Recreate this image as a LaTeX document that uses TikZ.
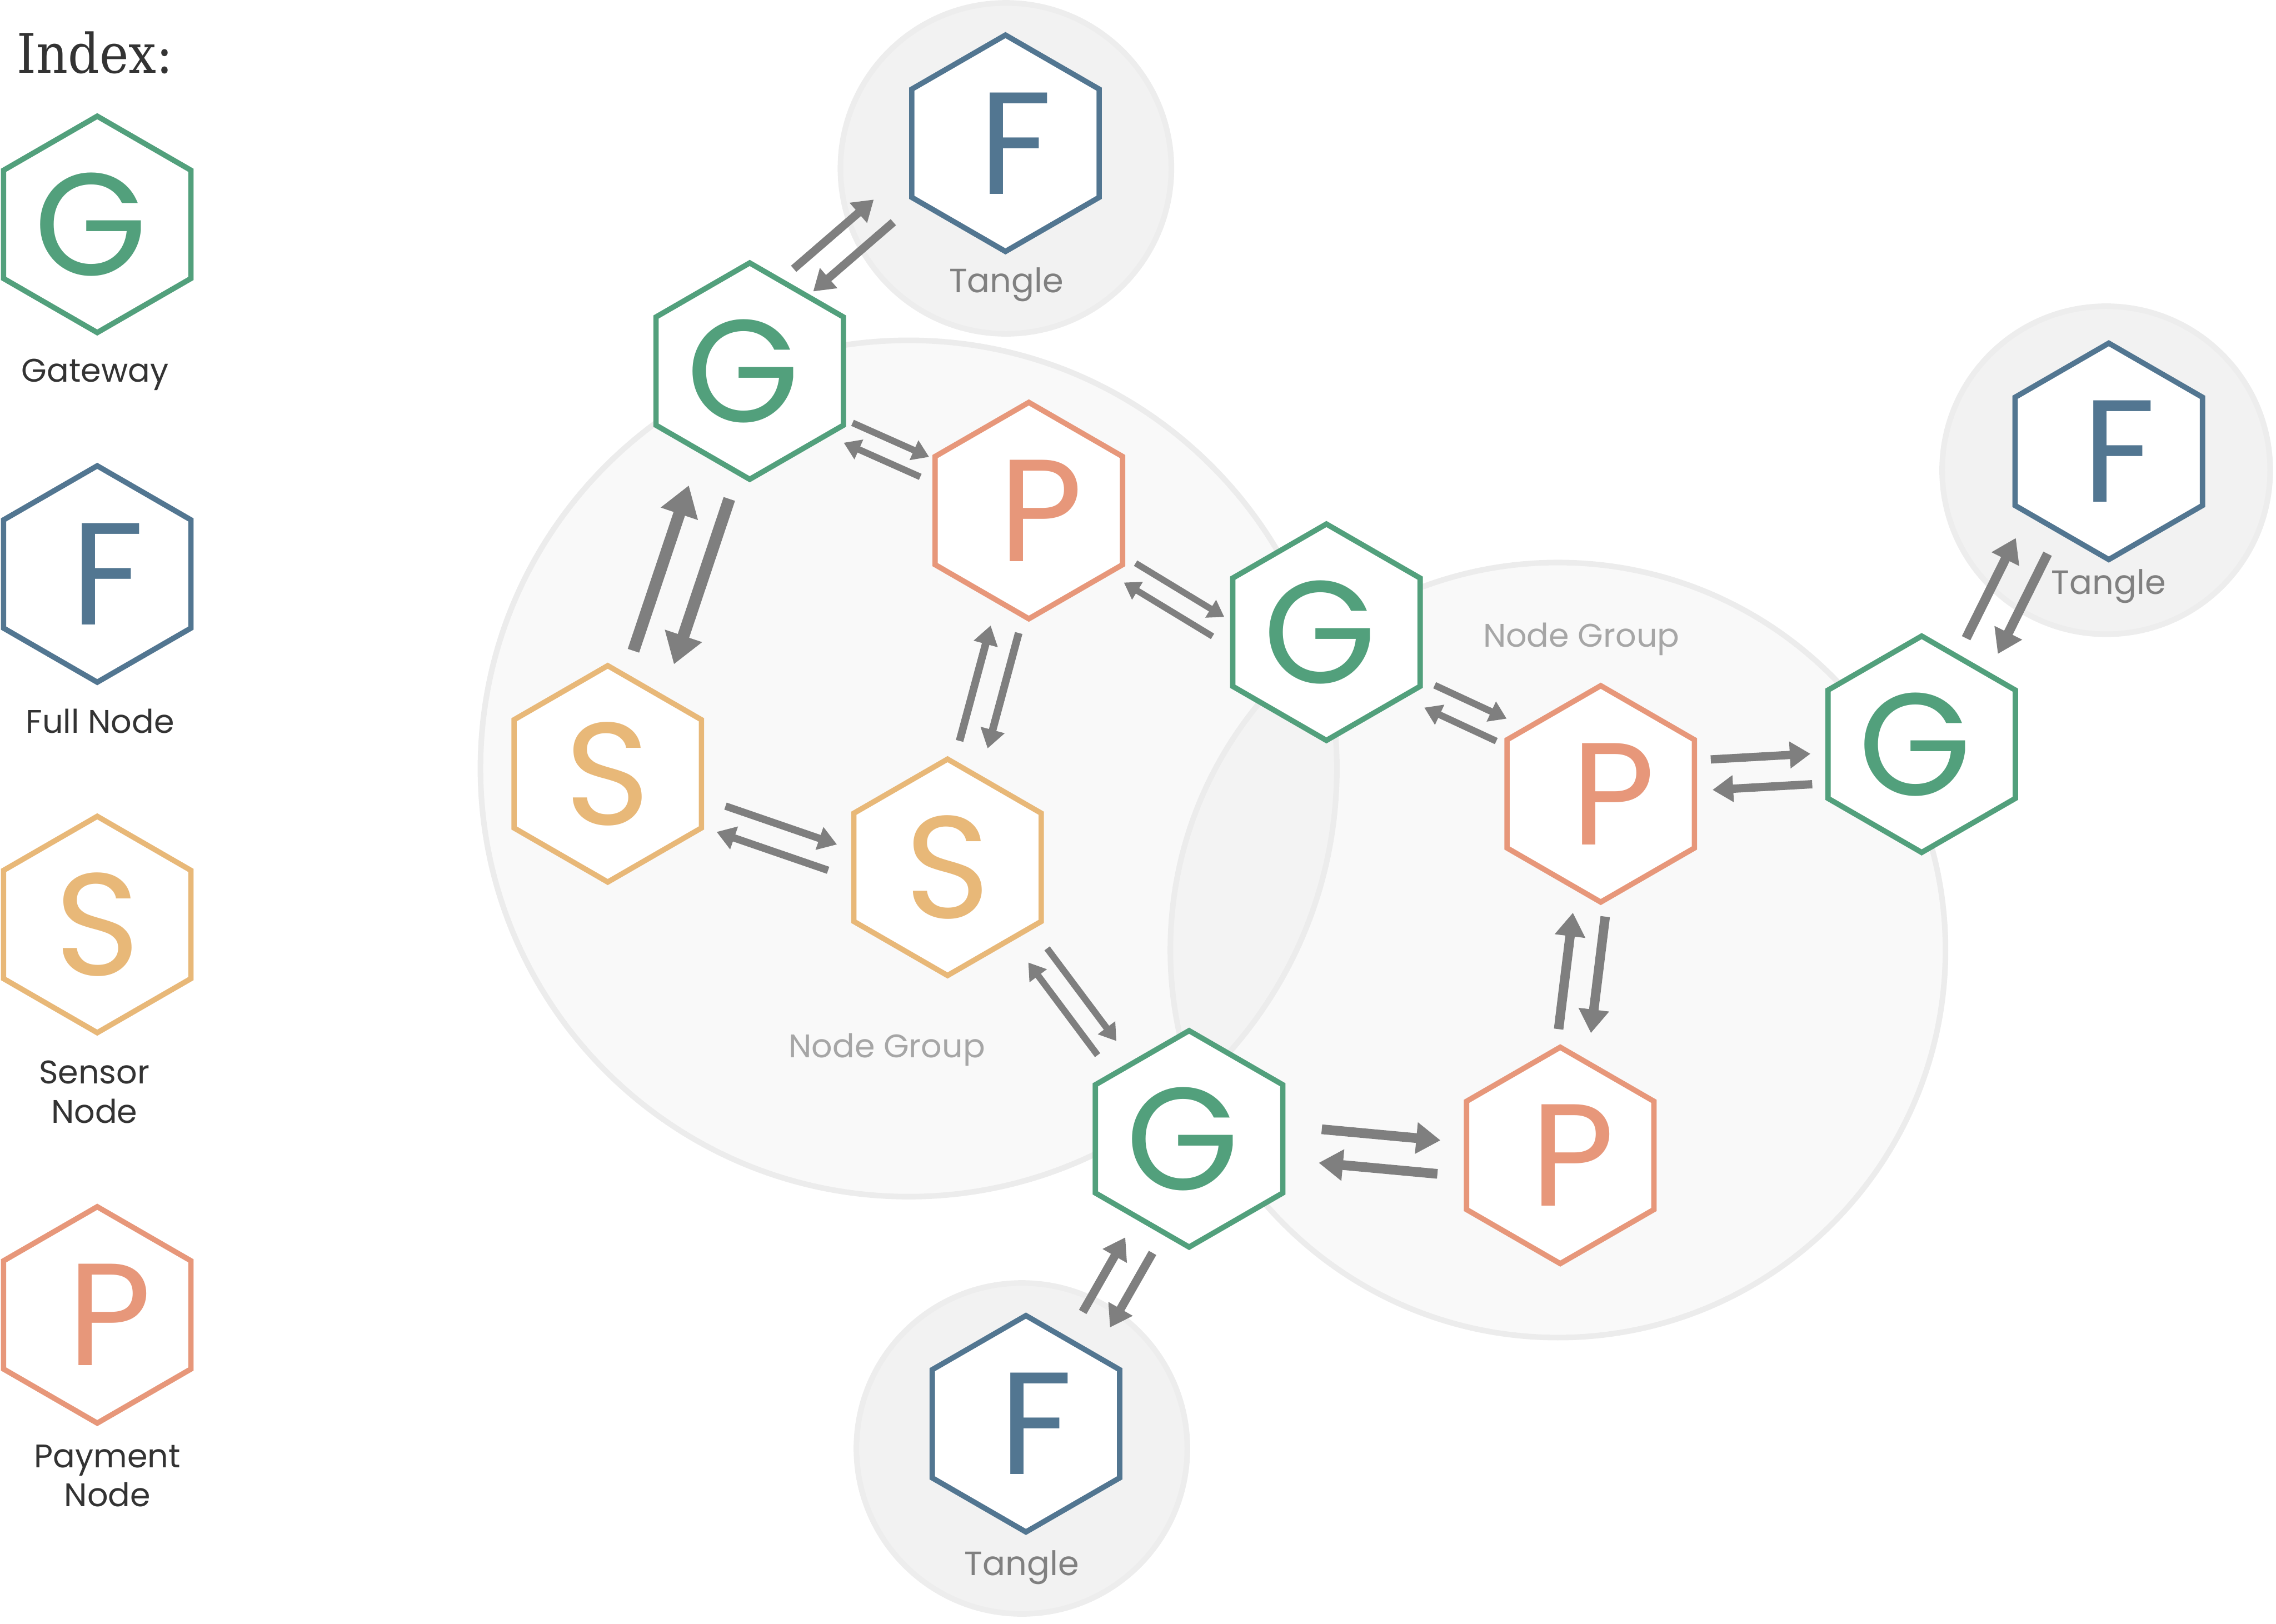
\documentclass[tikz,border=0pt]{standalone}
\usepackage{fontspec}
\usetikzlibrary{shapes.geometric,arrows.meta,calc}
\newfontfamily\hexfont{Poppins}
\newfontfamily\indexfont{DejaVu Serif}[FakeStretch=0.9]

\definecolor{gatewaygreen}{HTML}{52A07C}
\definecolor{fullblue}{HTML}{527691}
\definecolor{sensoryellow}{HTML}{E8B878}
\definecolor{paysalmon}{HTML}{E7977A}
\definecolor{flowgray}{HTML}{7F7F7F}
\definecolor{tanglefill}{HTML}{F2F2F2}
\definecolor{tangleedge}{HTML}{EDEDED}
\definecolor{groupedge}{HTML}{ECECEC}
\definecolor{tanglegray}{HTML}{808080}
\definecolor{groupgray}{HTML}{A6A6A6}
\definecolor{inktext}{HTML}{333333}

\tikzset{
  hexnode/.style={regular polygon, regular polygon sides=6, shape border rotate=30,
    minimum size=1.49cm, inner sep=0pt, outer sep=0pt, line width=1.05pt,
    draw=#1, fill=white, text=#1, font=\hexfont\fontsize{28.5}{28.5}\selectfont},
  flow/.style={draw=flowgray, -{Triangle[length=0pt 2.5, width=0pt 3.1]}},
  caption/.style={anchor=base, text=inktext, font=\hexfont\fontsize{6.4}{7.7}\selectfont},
  tanglelabel/.style={anchor=base, text=tanglegray, font=\hexfont\fontsize{6.6}{8}\selectfont},
  grouplabel/.style={anchor=base, text=groupgray, font=\hexfont\fontsize{6.4}{8}\selectfont},
  tanglezone/.style={fill=tanglefill, draw=tangleedge, line width=1.1pt},
  groupzone/.style={fill=black, fill opacity=0.022},
  grouprim/.style={draw=groupedge, line width=1.1pt}
}

% letters sit a little off the middle of their hexagon
\newcommand\gmark{G\hspace*{0.09cm}}
\newcommand\fmark{\hspace*{0.14cm}F}
\newcommand\pmark{\hspace*{0.17cm}P}

% two opposite arrows between nodes #2 and #4, axis ends offset by #3 and #5, half gap #6
\newcommand\duplex[6][]{%
  \coordinate (pairA) at ($(#2)+(#3)$);
  \coordinate (pairB) at ($(#4)+(#5)$);
  \draw[flow,#1] ($(pairA)!#6!90:(pairB)$) -- ($(pairB)!#6!-90:(pairA)$);
  \draw[flow,#1] ($(pairB)!#6!90:(pairA)$) -- ($(pairA)!#6!-90:(pairB)$);
}

\begin{document}
\begin{tikzpicture}[x=0.01cm,y=-0.01cm]
  \useasboundingbox (0,0) rectangle (1568,1118.6);

  \fill[groupzone] (626,529.5) circle (295);
  \fill[groupzone] (1073.3,654.6) circle (267);
  \draw[grouprim] (626,529.5) circle (295);
  \draw[grouprim] (1073.3,654.6) circle (267);
  \draw[tanglezone] (693,116) circle (114);
  \draw[tanglezone] (1451,324) circle (113);
  \draw[tanglezone] (704,998) circle (114);

  \node[anchor=base west, inner sep=0pt, text=inktext, font=\indexfont\fontsize{10.7}{12}\selectfont] (indextitle) at (11,50.4) {Index:};
  \node[hexnode=gatewaygreen] (keyG) at (67,154.6) {\gmark};
  \node[hexnode=fullblue] (keyF) at (67,395.5) {\fmark};
  \node[hexnode=sensoryellow] (keyS) at (67,637) {S};
  \node[hexnode=paysalmon] (keyP) at (67,906) {\pmark};
  \node[caption] (keyGtext) at (65.5,263.2) {Gateway};
  \node[caption] (keyFtext) at (69,505) {Full Node};
  \node[caption] (keyStext) at (65,774) {\shortstack{Sensor\\Node}};
  \node[caption] (keyPtext) at (74,1038) {\shortstack{Payment\\[-1.8pt]Node}};

  \node[hexnode=gatewaygreen] (gateA) at (516.5,255.7) {\gmark};
  \node[hexnode=gatewaygreen] (gateB) at (913.8,435.6) {\gmark};
  \node[hexnode=gatewaygreen] (gateC) at (1323.9,512.8) {\gmark};
  \node[hexnode=gatewaygreen] (gateD) at (819.2,784.7) {\gmark};
  \node[hexnode=fullblue] (fullA) at (692.7,98.7) {\fmark};
  \node[hexnode=fullblue] (fullB) at (1452.8,311) {\fmark};
  \node[hexnode=fullblue] (fullC) at (706.8,981) {\fmark};
  \node[hexnode=sensoryellow] (sensA) at (418.7,533.2) {S};
  \node[hexnode=sensoryellow] (sensB) at (652.8,597.6) {S};
  \node[hexnode=paysalmon] (payA) at (708.8,351.8) {\pmark};
  \node[hexnode=paysalmon] (payB) at (1102.8,547) {\pmark};
  \node[hexnode=paysalmon] (payC) at (1074.9,796.1) {\pmark};

  \duplex[line width=1.6pt]{gateA}{37.0,-62.7}{fullA}{-84.0,46.6}{0.103cm}
  \duplex[line width=1.3pt]{gateA}{67.8,42.5}{payA}{-71.75,-30.1}{0.075cm}
  \duplex[line width=2.35pt]{gateA}{-28.0,83.4}{sensA}{31.65,-80.15}{0.147cm}
  \duplex[line width=1.5pt]{payA}{-16.65,81.75}{sensB}{17.95,-84.5}{0.1cm}
  \duplex[line width=1.45pt]{sensA}{78.05,31.1}{sensB}{-79.25,-6.85}{0.094cm}
  \duplex[line width=1.25pt]{payA}{69.5,42.9}{gateB}{-74.4,-3.8}{0.078cm}
  \duplex[line width=1.33pt]{gateB}{71.0,44.25}{payB}{-68.4,-44.1}{0.085cm}
  \duplex[line width=1.62pt]{payB}{76.4,-13.25}{gateC}{-76.0,17.05}{0.105cm}
  \duplex[line width=1.85pt]{gateC}{41.55,-67.65}{fullB}{-53.1,65.1}{0.122cm}
  \duplex[line width=1.85pt]{payB}{-8.05,83.2}{payC}{10.0,-85.65}{0.112cm}
  \duplex[line width=1.3pt]{sensB}{62.1,60.7}{gateD}{-56.55,-62.55}{0.081cm}
  \duplex[line width=1.9pt]{gateD}{90.35,4.95}{payC}{-83.55,1.15}{0.116cm}
  \duplex[line width=1.68pt]{gateD}{-34.55,73.2}{fullC}{48.5,-71.7}{0.108cm}

  \node[tanglelabel] (tangleAtext) at (693.3,201.7) {Tangle};
  \node[tanglelabel] (tangleBtext) at (1452.7,409.6) {Tangle};
  \node[tanglelabel] (tangleCtext) at (704,1085.5) {Tangle};
  \node[grouplabel] (groupAtext) at (611,728.5) {Node Group};
  \node[grouplabel] (groupBtext) at (1089.4,445.7) {Node Group};
\end{tikzpicture}
\end{document}
